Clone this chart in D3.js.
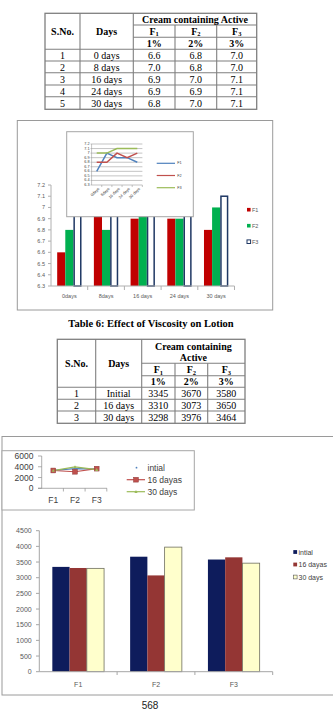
<!DOCTYPE html>
<html>
<head>
<meta charset="utf-8">
<script src="https://cdn.jsdelivr.net/npm/d3@7"></script>
<style>
  body { margin: 0; background: #fff; }
  svg { display: block; }
</style>
</head>
<body>
<svg id="page"></svg>
<script>
// ---- data ----
const phDays = ["0days", "8days", "16 days", "24 days", "30 days"];
const phTableDays = ["0 days", "8 days", "16 days", "24 days", "30 days"];
const phF1 = [6.6, 7.0, 6.9, 6.9, 6.8];
const phF2 = [6.8, 6.8, 7.0, 6.9, 7.0];
const phF3 = [7.0, 7.0, 7.1, 7.1, 7.1];
const phTicks = [6.3, 6.4, 6.5, 6.6, 6.7, 6.8, 6.9, 7.0, 7.1, 7.2];

const viscDays = ["Initial", "16 days", "30 days"];
const viscF1 = [3345, 3310, 3298];
const viscF2 = [3670, 3073, 3976];
const viscF3 = [3580, 3650, 3464];
const forms = ["F1", "F2", "F3"];
const viscLegend = ["intial", "16 dayas", "30 days"];
const viscLineTicks = [0, 2000, 4000, 6000];
const viscBarTicks = [0, 500, 1000, 1500, 2000, 2500, 3000, 3500, 4000, 4500];

const svg = d3.select("#page").attr("width", 333).attr("height", 714);
const serif = "'Liberation Serif', 'Times New Roman', serif";
const sans = "'Liberation Sans', Arial, sans-serif";
const fmt = d => String(+d.toFixed(1));

// ---- table helper ----
function drawTable(g, cols, rows, rowsData, header) {
  const L = cols[0], R = cols[cols.length - 1], T = rows[0], B = rows[rows.length - 1];
  const line = (x1, y1, x2, y2) => g.append("line")
    .attr("x1", x1).attr("y1", y1).attr("x2", x2).attr("y2", y2)
    .attr("stroke", "#7f7f7f").attr("stroke-width", 1.1);
  g.append("rect").attr("x", L).attr("y", T).attr("width", R - L).attr("height", B - T)
    .attr("fill", "none").attr("stroke", "#7f7f7f").attr("stroke-width", 1.3);
  line(cols[1], T, cols[1], B);
  line(cols[2], T, cols[2], B);
  line(cols[3], rows[1], cols[3], B);
  line(cols[4], rows[1], cols[4], B);
  line(cols[2], rows[1], R, rows[1]);
  line(cols[2], rows[2], R, rows[2]);
  for (let i = 3; i < rows.length - 1; i++) line(L, rows[i], R, rows[i]);

  const txt = (x, y, s, bold) => g.append("text").attr("x", x).attr("y", y)
    .attr("text-anchor", "middle").attr("dominant-baseline", "central")
    .attr("font-family", serif).attr("font-size", 10)
    .attr("font-weight", bold ? "bold" : "normal").text(s);
  const cx = i => (cols[i] + cols[i + 1]) / 2;
  const cy = i => (rows[i] + rows[i + 1]) / 2;

  txt(cx(0), (T + rows[3]) / 2, "S.No.", true);
  txt(cx(1), (T + rows[3]) / 2, "Days", true);
  header.forEach(h => txt((cols[2] + R) / 2, h.y, h.t, true));
  forms.forEach((f, i) => {
    const t = txt(cx(i + 2), cy(1), "F", true);
    t.append("tspan").attr("font-size", 6.5).attr("dy", 2).text(f.slice(1));
  });
  ["1%", "2%", "3%"].forEach((p, i) => txt(cx(i + 2), cy(2), p, true));
  rowsData.forEach((r, j) => r.forEach((v, i) => txt(cx(i), cy(j + 3) + 0.5, v, false)));
}

// ---- table 5 ----
drawTable(svg.append("g"),
  [45, 80, 133.3, 175, 216.7, 256.7],
  [13.3, 25, 37.3, 49.3, 61, 72.7, 85, 96.7, 109.3],
  phTableDays.map((d, i) => [String(i + 1), d, phF1[i].toFixed(1), phF2[i].toFixed(1), phF3[i].toFixed(1)]),
  [{t: "Cream containing Active", y: 19.5}]);

// ---- pH bar chart ----
const c1 = svg.append("g");
c1.append("rect").attr("x", 17.3).attr("y", 120.5).attr("width", 255.4).attr("height", 189.5)
  .attr("fill", "#fff").attr("stroke", "#9a9a9a");

const y1 = d3.scaleLinear().domain([6.3, 7.2]).range([286, 185]);
const x1 = d3.scaleBand().domain(phDays).range([51, 234.5]);
const gw1 = x1.bandwidth() * 0.663;
const xs1 = d3.scaleBand().domain(forms).range([0, gw1]);
const phSeries = [phF1, phF2, phF3];
const phColors = ["#c00000", "#00b050", "#ffffff"];

c1.append("line").attr("x1", 51).attr("x2", 51).attr("y1", 185).attr("y2", 286).attr("stroke", "#b0b0b0");
phTicks.forEach(t => {
  c1.append("line").attr("x1", 48).attr("x2", 51).attr("y1", y1(t)).attr("y2", y1(t)).attr("stroke", "#b0b0b0");
  c1.append("text").attr("x", 45).attr("y", y1(t)).attr("text-anchor", "end").attr("dominant-baseline", "central")
    .attr("font-family", sans).attr("font-size", 5.5).attr("fill", "#595959").text(fmt(t));
});

phSeries.forEach((s, k) => {
  c1.selectAll(null).data(s).join("rect")
    .attr("x", (d, i) => x1(phDays[i]) + (x1.bandwidth() - gw1) / 2 + xs1(forms[k]) + (k === 2 ? 0.75 : 0))
    .attr("y", d => y1(d))
    .attr("width", xs1.bandwidth() - (k === 2 ? 1.5 : 0))
    .attr("height", d => y1(6.3) - y1(d))
    .attr("fill", phColors[k])
    .attr("stroke", k === 2 ? "#1f3864" : "none")
    .attr("stroke-width", 1.5);
});

c1.append("line").attr("x1", 51).attr("x2", 234.5).attr("y1", 286).attr("y2", 286).attr("stroke", "#b0b0b0");
phDays.forEach(d => {
  const bx = x1(d) + x1.bandwidth();
  c1.append("line").attr("x1", bx).attr("x2", bx).attr("y1", 286).attr("y2", 290).attr("stroke", "#b0b0b0");
  c1.append("text").attr("x", x1(d) + x1.bandwidth() / 2).attr("y", 295.5).attr("text-anchor", "middle")
    .attr("dominant-baseline", "central").attr("font-family", sans).attr("font-size", 5.5)
    .attr("fill", "#595959").text(d);
});

forms.forEach((f, k) => {
  const ly = 209.7 + k * 16;
  c1.append("rect").attr("x", 247).attr("y", ly - 1.8).attr("width", 3.6).attr("height", 3.6)
    .attr("fill", phColors[k]).attr("stroke", k === 2 ? "#1f3864" : "none").attr("stroke-width", 1);
  c1.append("text").attr("x", 252).attr("y", ly).attr("dominant-baseline", "central")
    .attr("font-family", sans).attr("font-size", 5.5).attr("fill", "#595959").text(f);
});

// inset line chart (pH)
const ins = svg.append("g");
ins.append("rect").attr("x", 66.7).attr("y", 131.7).attr("width", 126.6).attr("height", 85)
  .attr("fill", "#fff").attr("stroke", "#a6a6a6");
const iy = d3.scaleLinear().domain([6.3, 7.2]).range([185, 144]);
const ix = d3.scalePoint().domain(phDays).range([96.7, 137.3]);
phTicks.forEach(t => {
  ins.append("line").attr("x1", 90.5).attr("x2", 142.4).attr("y1", iy(t)).attr("y2", iy(t))
    .attr("stroke", "#9c9c9c").attr("stroke-width", 0.6);
  ins.append("text").attr("x", 89.5).attr("y", iy(t)).attr("text-anchor", "end").attr("dominant-baseline", "central")
    .attr("font-family", sans).attr("font-size", 3.8).attr("fill", "#404040").text(fmt(t));
});
ins.append("line").attr("x1", 91.6).attr("x2", 91.6).attr("y1", 144).attr("y2", 185).attr("stroke", "#9c9c9c").attr("stroke-width", 0.6);
phDays.forEach((d, i) => {
  const bx = 91.6 + 10.15 * (i + 1);
  ins.append("line").attr("x1", bx).attr("x2", bx).attr("y1", 185).attr("y2", 187).attr("stroke", "#9c9c9c").attr("stroke-width", 0.6);
  ins.append("text").attr("transform", `translate(${ix(d) + 2},${188}) rotate(-45)`)
    .attr("text-anchor", "end").attr("dominant-baseline", "central")
    .attr("font-family", sans).attr("font-size", 4).attr("fill", "#404040").text(d);
});
const lineColors = ["#4f81bd", "#c0504d", "#9bbb59"];
const ln = d3.line().x((d, i) => ix(phDays[i])).y(d => iy(d));
phSeries.forEach((s, k) => {
  ins.append("path").attr("d", ln(s)).attr("fill", "none").attr("stroke", lineColors[k]).attr("stroke-width", 1.5);
});
forms.forEach((f, k) => {
  const ly = 163.3 + k * 12.2;
  ins.append("line").attr("x1", 156.7).attr("x2", 175).attr("y1", ly).attr("y2", ly)
    .attr("stroke", lineColors[k]).attr("stroke-width", 1.2);
  ins.append("text").attr("x", 177.3).attr("y", ly).attr("dominant-baseline", "central")
    .attr("font-family", sans).attr("font-size", 3.8).attr("fill", "#404040").text(f);
});

// ---- table 6 ----
svg.append("text").attr("x", 151).attr("y", 323).attr("text-anchor", "middle").attr("dominant-baseline", "central")
  .attr("font-family", serif).attr("font-weight", "bold").attr("font-size", 10.5)
  .text("Table 6: Effect of Viscosity on Lotion");

drawTable(svg.append("g"),
  [57.3, 95.7, 141.7, 175, 207.7, 245],
  [339.3, 363.3, 375.7, 387.3, 399.3, 411, 423.3],
  viscDays.map((d, i) => [String(i + 1), d, String(viscF1[i]), String(viscF2[i]), String(viscF3[i])]),
  [{t: "Cream containing", y: 346}, {t: "Active", y: 357.5}]);

// ---- viscosity charts ----
const viscSeries = viscDays.map((d, i) => [viscF1[i], viscF2[i], viscF3[i]]);
const c2 = svg.append("g");
c2.append("rect").attr("x", 2).attr("y", 436.5).attr("width", 340).attr("height", 258.5)
  .attr("fill", "#fff").attr("stroke", "#9a9a9a");

// small line chart
const l2 = svg.append("g");
l2.append("rect").attr("x", 2).attr("y", 450.7).attr("width", 192.3).attr("height", 59.3)
  .attr("fill", "#fff").attr("stroke", "#a6a6a6");
const ly2 = d3.scaleLinear().domain([0, 6000]).range([488.3, 456]);
const lx2 = d3.scalePoint().domain(forms).range([53.3, 96.7]);
l2.append("line").attr("x1", 41.7).attr("x2", 41.7).attr("y1", 456).attr("y2", 488.3).attr("stroke", "#8c8c8c").attr("stroke-width", 0.7);
viscLineTicks.forEach(t => {
  l2.append("line").attr("x1", 38).attr("x2", 41.7).attr("y1", ly2(t)).attr("y2", ly2(t)).attr("stroke", "#8c8c8c").attr("stroke-width", 0.7);
  l2.append("text").attr("x", 33.5).attr("y", ly2(t)).attr("text-anchor", "end").attr("dominant-baseline", "central")
    .attr("font-family", sans).attr("font-size", 8.5).attr("fill", "#404040").text(t);
});
l2.append("line").attr("x1", 38).attr("x2", 107).attr("y1", 488.3).attr("y2", 488.3).attr("stroke", "#8c8c8c").attr("stroke-width", 0.7);
forms.forEach((f, i) => {
  const bx = 41.7 + 21.7 * (i + 1);
  l2.append("line").attr("x1", bx).attr("x2", bx).attr("y1", 488.3).attr("y2", 491.5).attr("stroke", "#8c8c8c").attr("stroke-width", 0.7);
  l2.append("text").attr("x", lx2(f)).attr("y", 500).attr("text-anchor", "middle").attr("dominant-baseline", "central")
    .attr("font-family", sans).attr("font-size", 8.5).attr("fill", "#404040").text(f);
});
const ln2 = d3.line().x((d, i) => lx2(forms[i])).y(d => ly2(d));
const tri = (x, y, r) => `M${x},${y - r}L${x + r},${y + r * 0.8}L${x - r},${y + r * 0.8}Z`;
viscSeries.forEach((s, k) => {
  l2.append("path").attr("d", ln2(s)).attr("fill", "none").attr("stroke", lineColors[k]).attr("stroke-width", 1.2);
});
viscSeries.forEach((s, k) => {
  s.forEach((v, i) => {
    const px = lx2(forms[i]), py = ly2(v);
    if (k === 0) l2.append("circle").attr("cx", px).attr("cy", py).attr("r", 1).attr("fill", lineColors[0]);
    if (k === 1) l2.append("rect").attr("x", px - 2.4).attr("y", py - 2.4).attr("width", 4.8).attr("height", 4.8)
      .attr("fill", "#c0504d").attr("stroke", "#8c3836").attr("stroke-width", 0.5);
    if (k === 2) l2.append("path").attr("d", tri(px, py, 1.6)).attr("fill", "#9bbb59");
  });
});
viscLegend.forEach((t, k) => {
  const ly = 467.7 + k * 12;
  if (k > 0) l2.append("line").attr("x1", 126.7).attr("x2", 145).attr("y1", ly).attr("y2", ly)
    .attr("stroke", lineColors[k]).attr("stroke-width", 1.2);
  if (k === 0) l2.append("circle").attr("cx", 136.5).attr("cy", ly).attr("r", 0.9).attr("fill", lineColors[0]);
  if (k === 1) l2.append("rect").attr("x", 133.6).attr("y", ly - 2.4).attr("width", 4.8).attr("height", 4.8)
    .attr("fill", "#c0504d").attr("stroke", "#8c3836").attr("stroke-width", 0.5);
  if (k === 2) l2.append("path").attr("d", tri(136, ly, 1.6)).attr("fill", "#9bbb59");
  l2.append("text").attr("x", 147.5).attr("y", ly).attr("dominant-baseline", "central")
    .attr("font-family", sans).attr("font-size", 8.5).attr("fill", "#404040").text(t);
});

// bar chart
const b2 = svg.append("g");
const by = d3.scaleLinear().domain([0, 4500]).range([671.7, 530.7]);
const bx0 = d3.scaleBand().domain(forms).range([39.3, 272.7]);
const bgw = bx0.bandwidth() * 0.665;
const bx1 = d3.scaleBand().domain(viscLegend).range([0, bgw]);
const barColors = ["#0e1c5c", "#943634", "#ffffcc"];

b2.append("line").attr("x1", 39.3).attr("x2", 39.3).attr("y1", 530.7).attr("y2", 671.7).attr("stroke", "#a6a6a6");
viscBarTicks.forEach(t => {
  b2.append("line").attr("x1", 36).attr("x2", 39.3).attr("y1", by(t)).attr("y2", by(t)).attr("stroke", "#a6a6a6");
  b2.append("text").attr("x", 31.7).attr("y", by(t)).attr("text-anchor", "end").attr("dominant-baseline", "central")
    .attr("font-family", sans).attr("font-size", 7).attr("fill", "#595959").text(t);
});
viscSeries.forEach((s, k) => {
  b2.selectAll(null).data(s).join("rect")
    .attr("x", (d, i) => bx0(forms[i]) + (bx0.bandwidth() - bgw) / 2 + bx1(viscLegend[k]))
    .attr("y", d => by(d))
    .attr("width", bx1.bandwidth())
    .attr("height", d => by(0) - by(d))
    .attr("fill", barColors[k])
    .attr("stroke", k === 2 ? "#6f6f5f" : "none")
    .attr("stroke-width", 0.8);
});
b2.append("line").attr("x1", 39.3).attr("x2", 272.7).attr("y1", 671.7).attr("y2", 671.7).attr("stroke", "#a6a6a6");
forms.forEach(f => {
  const ex = bx0(f) + bx0.bandwidth();
  b2.append("line").attr("x1", ex).attr("x2", ex).attr("y1", 671.7).attr("y2", 675).attr("stroke", "#a6a6a6");
  b2.append("text").attr("x", bx0(f) + bx0.bandwidth() / 2).attr("y", 684).attr("text-anchor", "middle")
    .attr("dominant-baseline", "central").attr("font-family", sans).attr("font-size", 7)
    .attr("fill", "#595959").text(f);
});
viscLegend.forEach((t, k) => {
  const ly = 552 + k * 12.5;
  b2.append("rect").attr("x", 293.3).attr("y", ly - 1.9).attr("width", 3.8).attr("height", 3.8)
    .attr("fill", barColors[k]).attr("stroke", k === 2 ? "#555" : "none").attr("stroke-width", 0.6);
  b2.append("text").attr("x", 298.5).attr("y", ly).attr("dominant-baseline", "central")
    .attr("font-family", sans).attr("font-size", 7).attr("fill", "#404040").text(t);
});

// page number
svg.append("text").attr("x", 150).attr("y", 705).attr("text-anchor", "middle").attr("dominant-baseline", "central")
  .attr("font-family", sans).attr("font-size", 10).attr("fill", "#222").text("568");
</script>
</body>
</html>
